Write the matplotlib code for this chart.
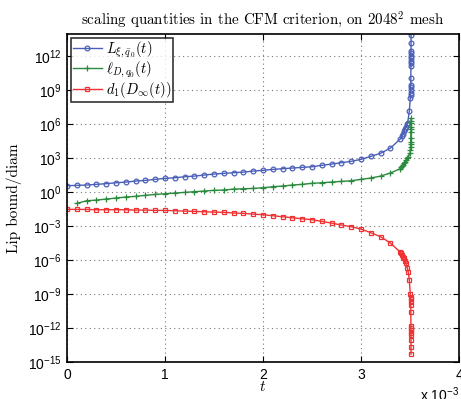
import numpy as np
import matplotlib
matplotlib.use("Agg")
import matplotlib.pyplot as plt
from matplotlib.ticker import FixedLocator, FixedFormatter

plt.rcParams['mathtext.fontset'] = 'custom'
plt.rcParams['mathtext.rm'] = 'Liberation Sans'
plt.rcParams['mathtext.it'] = 'Liberation Sans:italic'
plt.rcParams['font.family'] = ['Liberation Sans', 'DejaVu Sans']

# time in units of 1e-3
t_main = [0.0, 0.1, 0.2, 0.3, 0.4, 0.5, 0.6, 0.7, 0.8, 0.9, 1.0, 1.1, 1.2, 1.3, 1.4,
          1.5, 1.6, 1.7, 1.8, 1.9, 2.0, 2.1, 2.2, 2.3, 2.4, 2.5, 2.6, 2.7, 2.8, 2.9,
          3.0, 3.1, 3.2, 3.3, 3.4]

# L_{xi,q0}(t)  (log10 values)
L_t_late = [3.42, 3.43, 3.44, 3.45, 3.46, 3.47, 3.476, 3.493, 3.503, 3.505, 3.506,
            3.507, 3.5075, 3.508, 3.5085, 3.509, 3.5092, 3.5094, 3.5096, 3.5098,
            3.5100, 3.5102, 3.5104, 3.5106]
L_log_main = [0.56, 0.59, 0.62, 0.68, 0.74, 0.82, 0.88, 0.97, 1.03, 1.12, 1.21, 1.26,
              1.35, 1.41, 1.50, 1.59, 1.65, 1.71, 1.76, 1.85, 1.92, 2.00, 2.06, 2.12,
              2.18, 2.23, 2.36, 2.47, 2.59, 2.71, 2.89, 3.15, 3.42, 3.88, 4.68]
L_log_late = [4.94, 5.15, 5.35, 5.56, 5.76, 5.97, 6.09, 7.17, 8.30, 8.55, 8.75, 9.00,
              9.24, 9.44, 10.03, 11.15, 11.36, 11.56, 11.80, 12.00, 12.24, 12.47,
              13.12, 13.86]

# ell_{D,q0}(t)
l_t_main = t_main[1:]
l_log_main = [-1.00, -0.77, -0.71, -0.62, -0.53, -0.44, -0.38, -0.29, -0.21, -0.15,
              -0.09, -0.03, 0.03, 0.09, 0.15, 0.18, 0.26, 0.29, 0.32, 0.38, 0.47,
              0.53, 0.62, 0.68, 0.77, 0.82, 0.88, 0.94, 1.00, 1.12, 1.24, 1.41, 1.68,
              2.06]
l_t_late = [3.41, 3.42, 3.43, 3.44, 3.45, 3.46, 3.47, 3.483, 3.500, 3.503, 3.505,
            3.506, 3.507, 3.508, 3.5085, 3.509, 3.5093, 3.5096, 3.5099, 3.5102]
l_log_late = [2.20, 2.30, 2.42, 2.55, 2.68, 2.82, 2.97, 3.12, 3.42, 3.71, 4.00, 4.24,
              4.44, 4.74, 5.32, 5.53, 5.76, 6.06, 6.29, 6.50]

# d_1(D_inf(t))
d_log_main = [-1.53, -1.53, -1.53, -1.56, -1.56, -1.56, -1.56, -1.59, -1.59, -1.62,
              -1.62, -1.65, -1.68, -1.71, -1.74, -1.77, -1.79, -1.85, -1.88, -1.95,
              -2.00, -2.09, -2.18, -2.27, -2.36, -2.44, -2.59, -2.74, -2.91, -3.06,
              -3.27, -3.59, -3.94, -4.50, -5.30]
d_t_late = [3.41, 3.42, 3.43, 3.44, 3.45, 3.46, 3.473, 3.483, 3.493, 3.503, 3.505,
            3.506, 3.507, 3.508, 3.5085, 3.509, 3.5092, 3.5094, 3.5096, 3.5098,
            3.5100, 3.5102, 3.5104]
d_log_late = [-5.41, -5.56, -5.71, -5.85, -6.06, -6.29, -6.73, -7.09, -7.77, -9.00,
              -9.24, -9.47, -9.74, -9.94, -10.60, -11.80, -12.00, -12.20, -12.40,
              -12.60, -13.10, -13.70, -14.30]

ytick_exp = [-15, -12, -9, -6, -3, 0, 3, 6, 9, 12]
xticks = [0, 1, 2, 3, 4]

c_blue = '#4a5fb8'
c_green = '#2b8a3e'
c_red = '#f03232'

fig = plt.figure(figsize=(4.61, 3.99), dpi=100)
ax = fig.add_axes([0.1453, 0.0927, 0.8504, 0.8221])

ax.semilogy(t_main + L_t_late, np.power(10.0, L_log_main + L_log_late), '-o',
            color=c_blue, lw=1.0, ms=3.4, mfc='none', mew=0.9,
            label=r'$L_{\xi,\bar{q}_0}(t)$')
ax.semilogy(l_t_main + l_t_late, np.power(10.0, l_log_main + l_log_late), '-+',
            color=c_green, lw=1.0, ms=5, mew=0.9,
            label=r'$\ell_{D,q_0}(t)$')
ax.semilogy(t_main + d_t_late, np.power(10.0, d_log_main + d_log_late), '-s',
            color=c_red, lw=1.0, ms=3.0, mfc='none', mew=0.9,
            label=r'$d_1(D_\infty(t))$')

ax.set_xlim(0, 4)
ax.set_ylim(1e-15, 10**13.95)
ax.xaxis.set_major_locator(FixedLocator(xticks))
ax.set_xticklabels([str(v) for v in xticks], fontsize=10)
ax.yaxis.set_major_locator(FixedLocator([10.0**e for e in ytick_exp]))
ax.yaxis.set_major_formatter(FixedFormatter([r'$10^{%d}$' % e for e in ytick_exp]))
ax.yaxis.set_minor_locator(FixedLocator([]))
for lab in ax.get_yticklabels():
    lab.set_fontsize(10)

ax.tick_params(direction='in', top=True, right=True, length=4, width=0.8, pad=4)
ax.grid(True, which='major', linestyle=(0, (1, 3)), color='#777777', lw=0.8)
for s in ax.spines.values():
    s.set_linewidth(1.2)
    s.set_color('black')

ax.set_title(r'scaling quantities in the CFM criterion, on $2048^2$ mesh',
             fontfamily='cmr10', math_fontfamily='cm', fontsize=10.8, pad=7)
ax.set_ylabel('Lip bound/diam', fontfamily='cmr10', fontsize=11, labelpad=4)
ax.set_xlabel(r'$t$', math_fontfamily='cm', fontsize=11, labelpad=-1)

fig.text(0.912, -0.012, r'x 10$^{-3}$', fontsize=10, va='bottom', ha='left')

leg = ax.legend(loc='upper left', fontsize=10.5, frameon=True, fancybox=False,
                edgecolor='black', borderpad=0.15, handlelength=2.0,
                handletextpad=0.25, labelspacing=0.0, borderaxespad=0.25)
leg.get_frame().set_linewidth(1.2)
for txt in leg.get_texts():
    txt.set_math_fontfamily('cm')

fig.savefig('out.png', dpi=100)
